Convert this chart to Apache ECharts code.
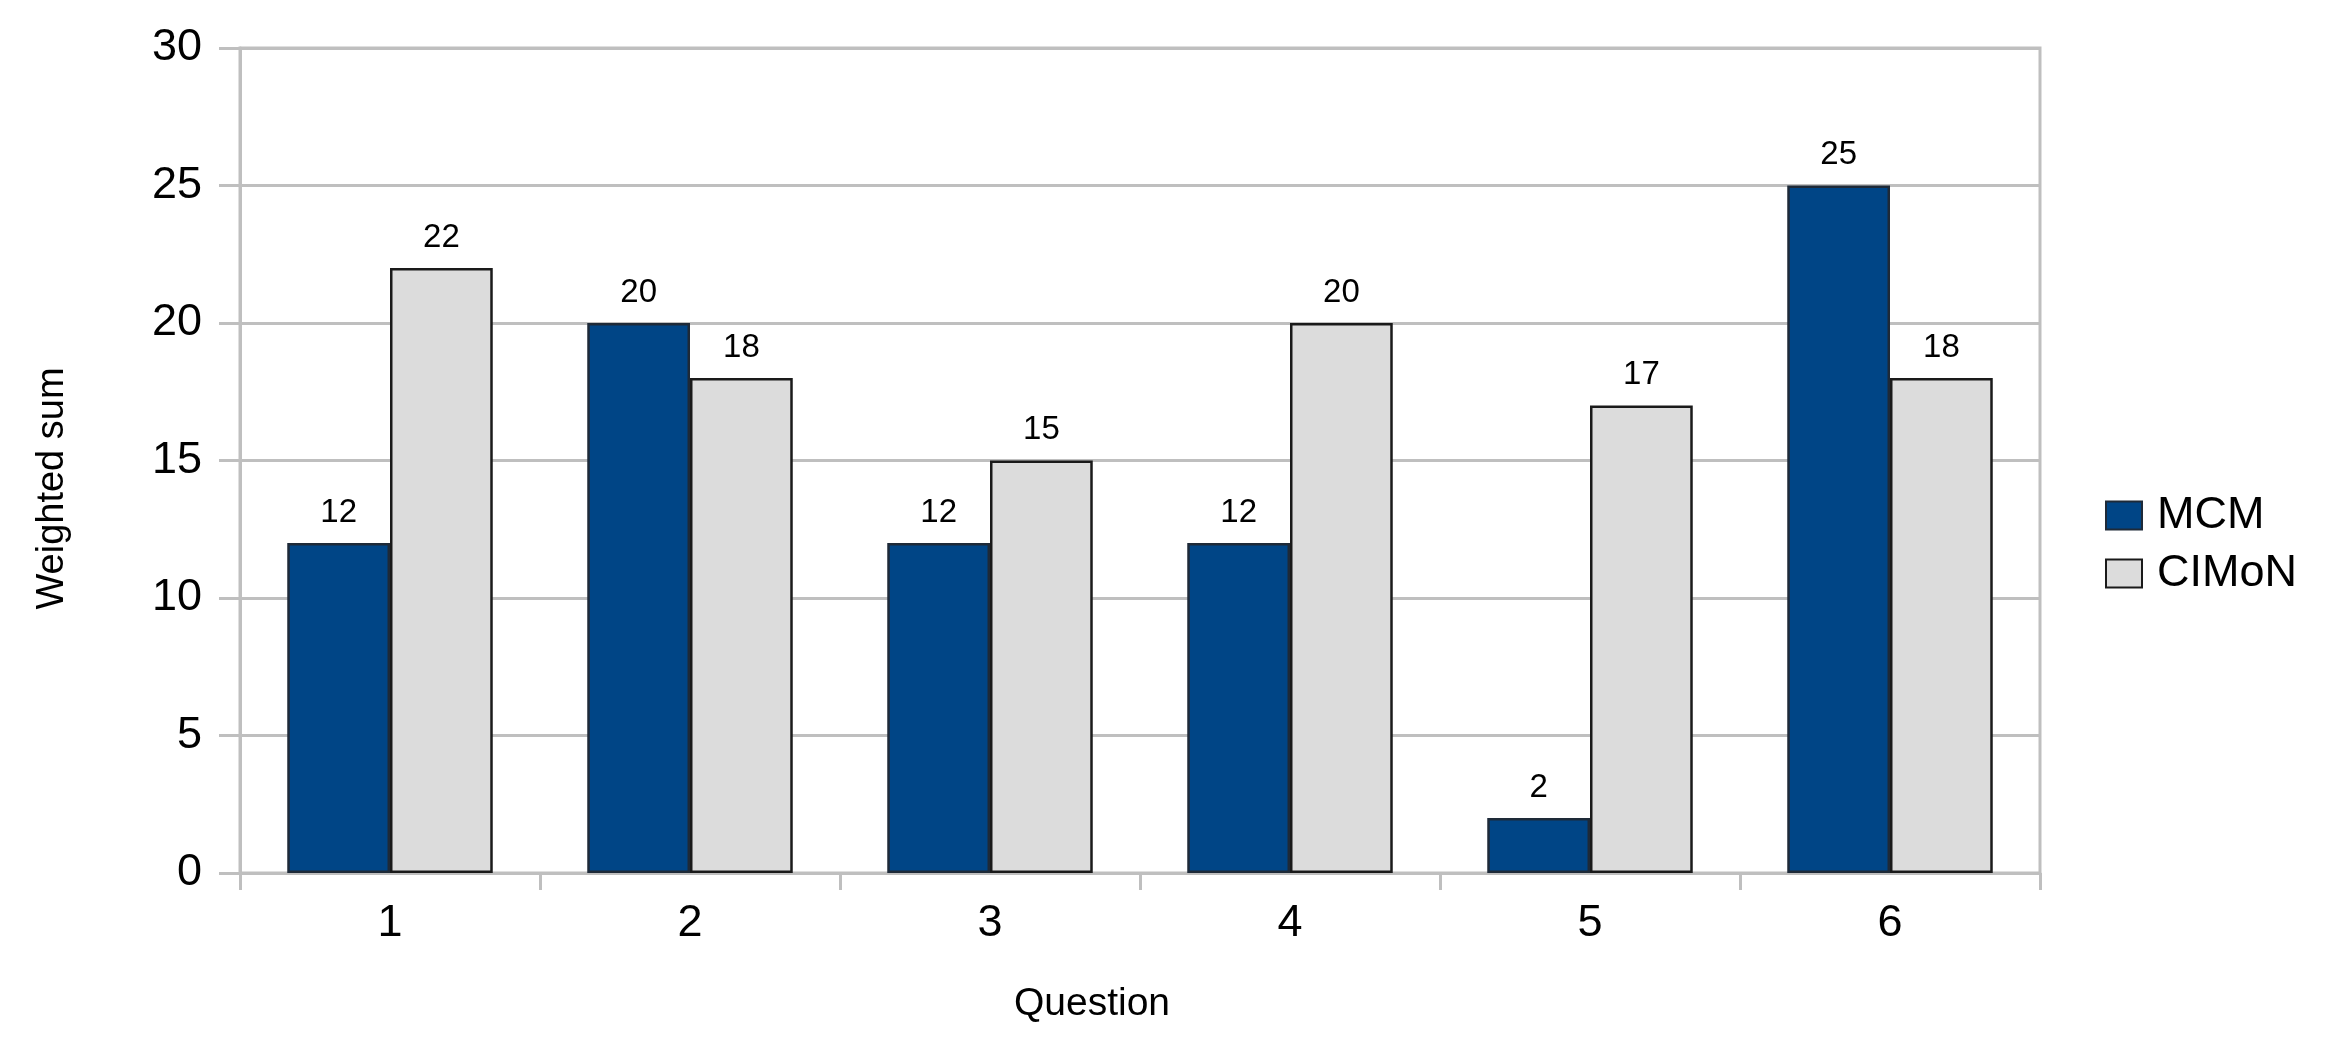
<!DOCTYPE html>
<html>
<head>
<meta charset="utf-8">
<script src="https://cdn.jsdelivr.net/npm/echarts@6/dist/echarts.min.js"></script>
<style>
  html, body { margin: 0; padding: 0; background: #fff; }
  #chart { width: 2338px; height: 1055px; }
</style>
</head>
<body>
<div id="chart"></div>
<script>
const categories = ['1', '2', '3', '4', '5', '6'];
const mcmValues = [12, 20, 12, 12, 2, 25];
const cimonValues = [22, 18, 15, 20, 17, 18];
const seriesNames = ['MCM', 'CIMoN'];
const yTicks = { min: 0, max: 30, interval: 5 };

const FONT = '"Liberation Sans", Arial, sans-serif';
const GRID_COLOR = '#bfbfbf';

const chart = echarts.init(document.getElementById('chart'), null, { renderer: 'canvas' });

const labelCfg = {
  show: true,
  position: 'top',
  distance: 14,
  fontFamily: FONT,
  fontSize: 33,
  color: '#000'
};

chart.setOption({
  animation: false,
  backgroundColor: '#fff',
  textStyle: { fontFamily: FONT },
  grid: {
    left: 240, right: 298, top: 48, bottom: 182,
    show: true, borderColor: GRID_COLOR, borderWidth: 3,
    containLabel: false
  },
  legend: {
    orient: 'vertical',
    left: 2105,
    top: 493,
    padding: 0,
    icon: 'rect',
    itemWidth: 36,
    itemHeight: 28,
    itemGap: 13,
    textStyle: { fontFamily: FONT, fontSize: 45, color: '#000', padding: [0, 0, 0, 10] },
    data: seriesNames
  },
  xAxis: {
    type: 'category',
    data: categories,
    name: 'Question',
    nameLocation: 'middle',
    nameGap: 112,
    nameTextStyle: { fontFamily: FONT, fontSize: 39, color: '#000', padding: [0, 96, 0, 0] },
    axisLine: { show: true, lineStyle: { color: GRID_COLOR, width: 3 } },
    axisTick: { show: true, length: 17, lineStyle: { color: GRID_COLOR, width: 3 } },
    axisLabel: { fontFamily: FONT, fontSize: 45, color: '#000', margin: 28 },
    splitLine: { show: false }
  },
  yAxis: {
    type: 'value',
    min: yTicks.min,
    max: yTicks.max,
    interval: yTicks.interval,
    name: 'Weighted sum',
    nameLocation: 'middle',
    nameGap: 168,
    nameTextStyle: { fontFamily: FONT, fontSize: 38, color: '#000', padding: [0, 56, 0, 0] },
    axisLine: { show: true, lineStyle: { color: GRID_COLOR, width: 3 } },
    axisTick: { show: true, length: 21, lineStyle: { color: GRID_COLOR, width: 3 } },
    axisLabel: { fontFamily: FONT, fontSize: 45, color: '#000', margin: 38 },
    splitLine: { show: true, lineStyle: { color: GRID_COLOR, width: 3 } }
  },
  series: [
    {
      name: seriesNames[0],
      type: 'bar',
      data: mcmValues,
      barGap: '0%',
      barCategoryGap: '31.5%',
      itemStyle: { color: '#004586', borderColor: '#1e2a38', borderWidth: 2.5 },
      label: labelCfg
    },
    {
      name: seriesNames[1],
      type: 'bar',
      data: cimonValues,
      barGap: '0%',
      barCategoryGap: '31.5%',
      itemStyle: { color: '#dcdcdc', borderColor: '#1a1a1a', borderWidth: 2.5 },
      label: labelCfg
    }
  ]
});
</script>
</body>
</html>
